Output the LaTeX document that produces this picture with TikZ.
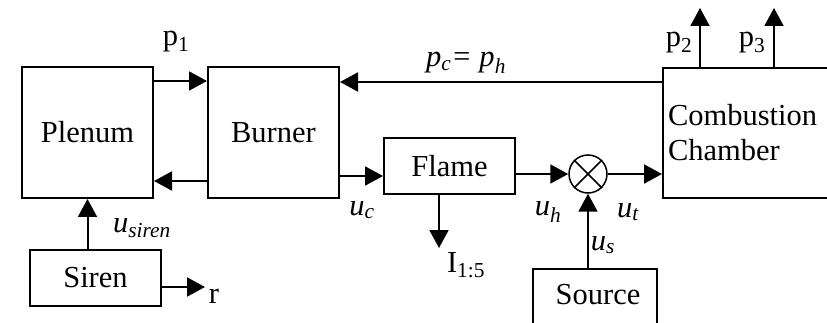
\documentclass[tikz,border=0pt]{standalone}
\usepackage{fontspec}
\setmainfont{Liberation Serif}
\usetikzlibrary{arrows.meta,calc}
\begin{document}
\begin{tikzpicture}[x=1pt,y=-1pt,
  every node/.style={font=\fontsize{30.5}{37}\selectfont},
  blk/.style={draw, line width=2pt, inner sep=0pt, anchor=north west},
  arr/.style={line width=2pt, -{Triangle[length=18pt,width=19pt]}},
  lbl/.style={inner sep=0pt}]
\useasboundingbox (0,0) rectangle (827,323);
\clip (0,0) rectangle (827,323);
% blocks
\node[blk, minimum width=131pt, minimum height=131pt] (plenum) at (21,66) {Plenum};
\node[blk, minimum width=131pt, minimum height=131pt] (burner) at (207,66) {Burner};
\node[blk, minimum width=131pt, minimum height=56pt] (flame) at (383,137) {Flame\hspace{6pt}};
\node[blk, minimum width=131pt, minimum height=56pt] (siren) at (29,249) {Siren\hspace{18pt}};
\node[blk, minimum width=124pt, minimum height=80pt, text depth=30pt] (source) at (532,268) {\hspace{6pt}Source};
\node[blk, minimum width=180pt, minimum height=130pt, text width=170pt, align=left, inner xsep=5pt] (cc) at (662,67) {Combustion\\[-2pt]Chamber\\[6pt]};
\node[draw, circle, line width=1.5pt, minimum size=38pt, inner sep=0pt] (mix) at (588,174) {};
\draw[line width=1.5pt] (mix.north west) -- (mix.south east) (mix.north east) -- (mix.south west);
% coordinates
\coordinate (p1y) at ($(plenum.north east)+(0,15)$);
\coordinate (backy) at ($(burner.south west)+(0,-18)$);
\coordinate (ucy) at ($(burner.south east)+(0,-23)$);
\coordinate (pch) at ($(cc.north west)+(0,15)$);
\coordinate (rend) at (205,287);
\coordinate (iend) at (439,248);
\coordinate (p2end) at (700,8);
\coordinate (p3end) at (774,8);
% connectors
\draw[arr] (p1y) -- (p1y -| burner.west);
\draw[arr] (backy) -- (backy -| plenum.east);
\draw[arr] (ucy) -- (ucy -| flame.west);
\draw[arr] (flame.east |- mix) -- (mix.west);
\draw[arr] (mix.east) -- (mix -| cc.west);
\draw[arr] (mix |- source.north) -- (mix.south);
\draw[arr] (pch) -- (pch -| burner.east);
\draw[arr] (plenum.south |- siren.north) -- (plenum.south);
\draw[arr] (siren.east |- rend) -- (rend);
\draw[arr] (flame.south -| iend) -- (iend);
\draw[arr] (cc.north -| p2end) -- (p2end);
\draw[arr] (cc.north -| p3end) -- (p3end);
% labels
\node[lbl] (lp1) at (176,42) {p\textsubscript{1}};
\node[lbl] (lpc) at (466,63) {\itshape p\textsubscript{c}= p\textsubscript{h}};
\node[lbl] (lp2) at (679,43) {p\textsubscript{2}};
\node[lbl] (lp3) at (752,43) {p\textsubscript{3}};
\node[lbl] (luc) at (362,210) {\itshape u\textsubscript{c}};
\node[lbl] (lus) at (142,228) {\itshape u\textsubscript{siren}};
\node[lbl] (lr) at (214,296) {r};
\node[lbl] (luh) at (548,212) {\itshape u\textsubscript{h}};
\node[lbl] (lut) at (628,212) {\itshape u\textsubscript{t}};
\node[lbl] (luss) at (603,245) {\itshape u\textsubscript{s}};
\node[lbl] (li) at (466,265) {I\textsubscript{1:5}};
\end{tikzpicture}
\end{document}
